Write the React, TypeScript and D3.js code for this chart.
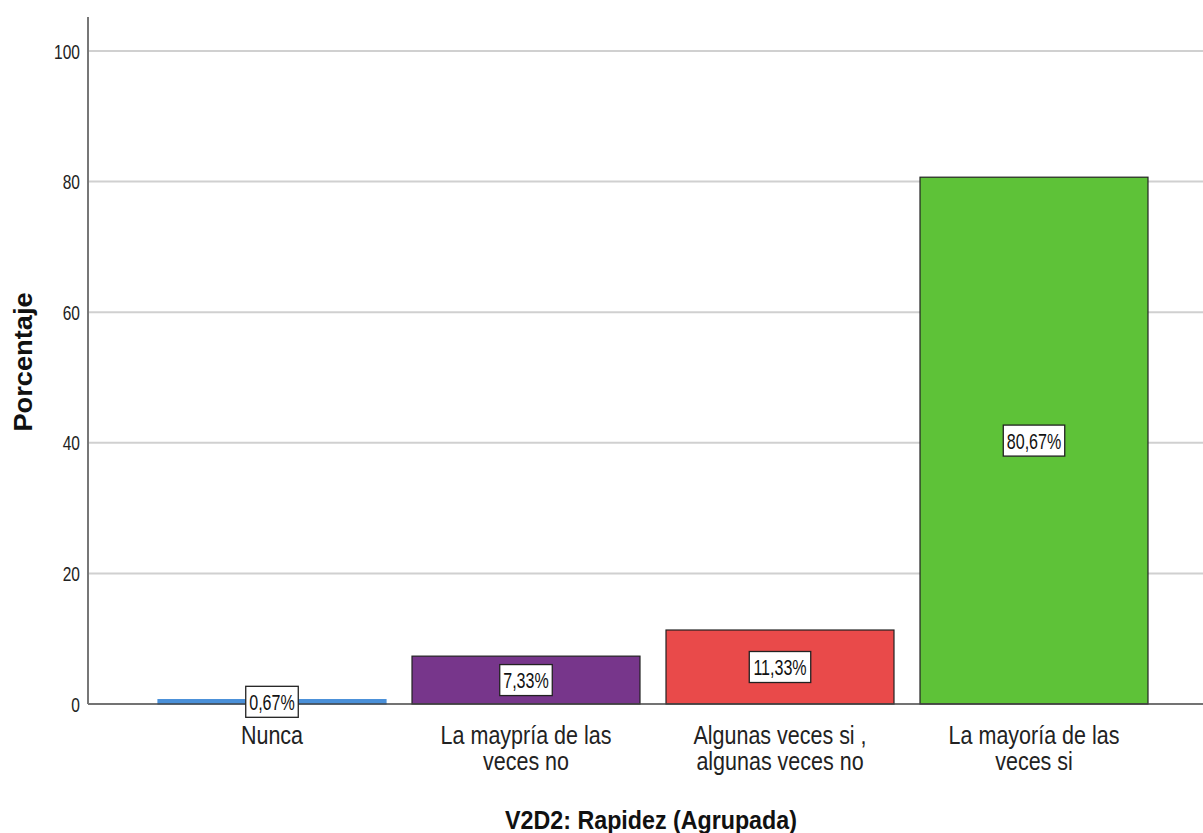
import React from "react";
import * as d3 from "d3";

const categories = [
  ["Nunca"],
  ["La maypría de las", "veces no"],
  ["Algunas veces si ,", "algunas veces no"],
  ["La mayoría de las", "veces si"],
];
const values = [0.67, 7.33, 11.33, 80.67];
const valueLabels = ["0,67%", "7,33%", "11,33%", "80,67%"];
const colors = ["#4a90d9", "#77368b", "#e94a4a", "#5ec238"];
const strokes = ["#4a90d9", "#222", "#222", "#222"];
const yTicks = [0, 20, 40, 60, 80, 100];

const W = 1203;
const H = 833;
const FONT = "'Liberation Sans', Arial, sans-serif";

const charW: Record<string, number> = { ",": 0.278, "%": 0.889 };
const textWidth = (s: string, fs: number) =>
  s.split("").reduce((a, c) => a + (charW[c] ?? 0.556), 0) * fs;

export default function App() {
  const x = d3
    .scaleBand<number>()
    .domain(d3.range(categories.length))
    .range([88, 1218])
    .paddingInner(0.1024)
    .paddingOuter(0.2756);
  const y = d3.scaleLinear().domain([0, 105.2]).range([704, 17]);

  const tickFs = 21;
  const tickSx = 0.74;
  const valFs = 22;
  const valSx = 0.73;
  const catFs = 25;
  const catSx = 0.86;

  return (
    <svg
      width={W}
      height={H}
      style={{ position: "absolute", left: 0, top: 0, background: "#fff" }}
      fontFamily={FONT}
    >
      {yTicks.filter((t) => t > 0).map((t) => (
        <line key={"g" + t} x1={88} x2={W} y1={y(t)} y2={y(t)} stroke="#d0d0d0" strokeWidth={2} />
      ))}
      {yTicks.map((t) => (
        <text
          key={"t" + t}
          transform={`translate(80,${y(t)}) scale(${tickSx},1)`}
          dy="0.36em"
          textAnchor="end"
          fontSize={tickFs}
          fill="#222"
        >
          {t}
        </text>
      ))}
      {values.map((v, i) => (
        <rect
          key={"b" + i}
          x={x(i)}
          y={y(v)}
          width={x.bandwidth()}
          height={y(0) - y(v)}
          fill={colors[i]}
          stroke={strokes[i]}
          strokeWidth={1.2}
        />
      ))}
      <line x1={88} x2={W} y1={y(0)} y2={y(0)} stroke="#444" strokeWidth={1.5} />
      <line x1={88} x2={88} y1={y(0)} y2={y(105.2)} stroke="#777" strokeWidth={2} />
      {values.map((v, i) => {
        const cx = (x(i) as number) + x.bandwidth() / 2;
        const cy = (y(v) + y(0)) / 2;
        const w = textWidth(valueLabels[i], valFs) * valSx + 7;
        return (
          <g key={"l" + i}>
            <rect x={cx - w / 2} y={cy - 15.5} width={w} height={31} fill="#fff" stroke="#222" strokeWidth={1.3} />
            <text
              transform={`translate(${cx},${cy}) scale(${valSx},1)`}
              dy="0.36em"
              textAnchor="middle"
              fontSize={valFs}
              fill="#111"
            >
              {valueLabels[i]}
            </text>
          </g>
        );
      })}
      {categories.map((lines, i) => {
        const cx = (x(i) as number) + x.bandwidth() / 2;
        return (
          <g key={"c" + i}>
            {lines.map((ln, j) => (
              <text
                key={j}
                transform={`translate(${cx},${744 + j * 26}) scale(${catSx},1)`}
                textAnchor="middle"
                fontSize={catFs}
                fill="#222"
              >
                {ln}
              </text>
            ))}
          </g>
        );
      })}
      <text
        transform="translate(651,829) scale(0.93,1)"
        textAnchor="middle"
        fontSize={25}
        fontWeight="bold"
        fill="#111"
      >
        V2D2: Rapidez (Agrupada)
      </text>
      <text
        transform="translate(32,362) rotate(-90) scale(1.09,1)"
        textAnchor="middle"
        fontSize={25}
        fontWeight="bold"
        fill="#111"
      >
        Porcentaje
      </text>
    </svg>
  );
}
